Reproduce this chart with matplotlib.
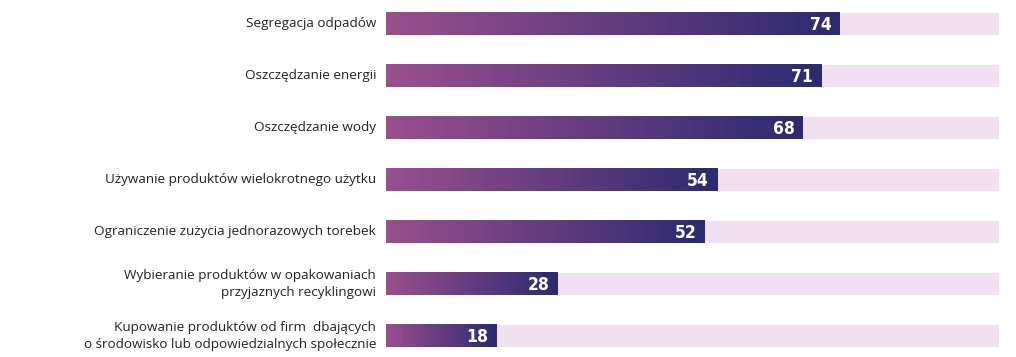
import numpy as np
import matplotlib.pyplot as plt
from matplotlib import font_manager
from matplotlib.colors import LinearSegmentedColormap

labels = [
    "Segregacja odpadów",
    "Oszczędzanie energii",
    "Oszczędzanie wody",
    "Używanie produktów wielokrotnego użytku",
    "Ograniczenie zużycia jednorazowych torebek",
    "Wybieranie produktów w opakowaniach\nprzyjaznych recyklingowi",
    "Kupowanie produktów od firm  dbających\no środowisko lub odpowiedzialnych społecznie",
]
values = [74, 71, 68, 54, 52, 28, 18]

cmap = LinearSegmentedColormap.from_list("bar", ["#9a4f8e", "#2c2a70"])
track = "#f1e1f0"
bh = 0.44

names = sorted({f.name + " | " + str(f.stretch) for f in font_manager.fontManager.ttflist})
print("\n".join(n for n in names if "ondens" in n or "arrow" in n or "condensed" in n))

fig = plt.figure(figsize=(10.16, 3.57), dpi=100)
ax = fig.add_axes([386 / 1016, 0, 613 / 1016, 1])
grad = np.linspace(0, 1, 256).reshape(1, -1)

for i, (lab, v) in enumerate(zip(labels, values)):
    ax.barh(i, 100, height=bh, color=track, zorder=1)
    ax.imshow(grad, cmap=cmap, aspect="auto", zorder=2,
              extent=(0, v, i + bh / 2, i - bh / 2))
    ax.text(v - 1.3, i + 0.02, str(v), ha="right", va="center", color="white",
            fontsize=12.5, fontweight="bold", fontstretch="condensed",
            family="DejaVu Sans", zorder=3)
    ax.text(-1.6, i, lab, ha="right", va="center", color="#222222",
            fontsize=9.7, family=["Open Sans", "DejaVu Sans"], linespacing=1.35)

ax.set_xlim(0, 100)
ax.set_ylim(6.404, -0.4615)
ax.axis("off")

fig.savefig("out.png", dpi=100)
